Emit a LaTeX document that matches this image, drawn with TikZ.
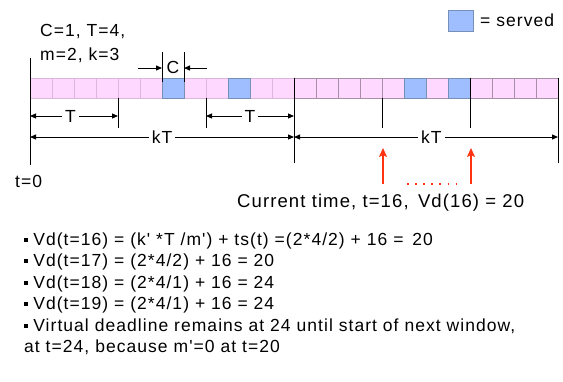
\documentclass[tikz,border=0pt]{standalone}
\usepackage{fontspec}
\newfontfamily\arialish{Liberation Sans}[LetterSpace=6]
\usetikzlibrary{arrows.meta,positioning}

\definecolor{slotpink}{HTML}{FFD8FF}
\definecolor{slotedge}{HTML}{DDB6DD}
\definecolor{slotdark}{HTML}{A88FA8}
\definecolor{servedblue}{HTML}{9EBEFF}
\definecolor{servededge}{HTML}{7690B6}
\definecolor{nowred}{HTML}{FF3311}
\newcommand{\bul}{\rule[0.2em]{0.22em}{0.22em}\hspace{0.3em}}

\begin{document}
\begin{tikzpicture}[
    x=1pt, y=-1pt,
    font={\arialish\fontsize{17.5}{20}\selectfont},
    slot/.style={draw=slotedge, fill=slotpink, line width=1pt, minimum width=22pt, minimum height=20pt, inner sep=0pt, outer sep=0pt},
    served/.style={slot, draw=servededge, fill=servedblue},
    tick/.style={line width=1pt},
    dim/.style={line width=1pt, {Triangle[length=6pt,width=5pt]}-{Triangle[length=6pt,width=5pt]}},
    cur/.style={nowred, line width=1.2pt, -{Stealth[length=9pt,width=8pt,inset=2pt]}},
    lbl/.style={fill=white, inner sep=3pt},
    txt/.style={anchor=base west, inner sep=0pt}
]
\useasboundingbox (0,0) rectangle (563,381);

% time slots t=0..23
\foreach \i in {0,...,23} {
    \ifnum\i<12
        \node[slot] (s\i) at ({41+22*\i},88) {};
    \else
        \node[slot, draw=slotdark] (s\i) at ({41+22*\i},88) {};
    \fi
}
\foreach \i in {6,9,17,19}
    \node[served] at (s\i) {};

% window boundaries
\coordinate (t0) at (s0.south west);
\coordinate (t4) at (s4.south west);
\coordinate (t8) at (s8.south west);
\coordinate (t12) at (s12.south west);
\coordinate (t16) at (s16.south west);
\coordinate (t20) at (s20.south west);
\coordinate (t24) at (s23.south east);

\draw[tick] (30,58) -- (30,165);
\draw[tick] (t4) -- ++(0,30);
\draw[tick] (t8) -- ++(0,30);
\draw[tick] (s12.north west) -- ++(0,85);
\draw[tick] (t16) -- ++(0,30);
\draw[tick] (s20.north west) -- ++(0,50);
\draw[tick] (s23.north east) -- ++(0,85);

% C marker
\coordinate (cl) at (s6.north west);
\coordinate (cr) at (s6.north east);
\draw[tick] ([yshift=-4pt]cl) -- ([yshift=26pt]cl);
\draw[tick] ([yshift=-4pt]cr) -- ([yshift=26pt]cr);
\draw[tick, -{Triangle[length=6pt,width=5pt]}] ([xshift=-24pt,yshift=10pt]cl) -- ([yshift=10pt]cl);
\draw[tick, -{Triangle[length=6pt,width=5pt]}] ([xshift=23pt,yshift=10pt]cr) -- ([yshift=10pt]cr);
\node[inner sep=0pt, anchor=base] (clbl) at (173,73) {C};

% periods and windows
\draw[dim] (t0 |- 0,116) -- (t4 |- 0,116) node[lbl, pos=0.46] (p1) {T};
\draw[dim] (t8 |- 0,116) -- (t12 |- 0,116) node[lbl, midway] (p2) {T};
\draw[dim] (t0 |- 0,137) -- (t12 |- 0,137) node[lbl, midway] (w1) {kT};
\draw[dim] (t12 |- 0,137) -- (t24 |- 0,137) node[lbl, pos=0.52] (w2) {kT};

% current time and virtual deadline
\coordinate (now) at (383,184);
\coordinate (vd) at (471,184);
\draw[cur] (now) -- ++(0,-36);
\draw[cur] (vd) -- ++(0,-36);
\draw[nowred, line width=1.6pt, dash pattern=on 1.6pt off 6.5pt] (407,184) -- (459,184);

% legend
\node[served, minimum width=25pt, minimum height=21pt, anchor=north west] (key) at (448,10) {};
\node[txt, right=7pt of key.east, anchor=west] (keytxt) {= served};

% labels
\node[txt] (par1) at (40,36) {C=1, T=4,};
\node[txt] (par2) at (40,60) {m=2, k=3};
\node[txt] (zero) at (15,187) {t=0};
\node[txt, font={\arialish\fontsize{18.5}{20}\selectfont}] (nowtxt) at (237,207) {Current time, t=16,\, Vd(16) = 20};

\node[txt] (b1) at (24,245) {\bul Vd(t=16) = (k' *T /m') + ts(t) =(2*4/2) + 16 =\, 20};
\node[txt] (b2) at (24,266) {\bul Vd(t=17) = (2*4/2) + 16 = 20};
\node[txt] (b3) at (24,288) {\bul Vd(t=18) = (2*4/1) + 16 = 24};
\node[txt] (b4) at (24,309) {\bul Vd(t=19) = (2*4/1) + 16 = 24};
\node[txt] (b5) at (24,331) {\bul Virtual deadline remains at 24 until start of next window,};
\node[txt] (b6) at (24,352) {at t=24, because m'=0 at t=20};
\end{tikzpicture}
\end{document}
